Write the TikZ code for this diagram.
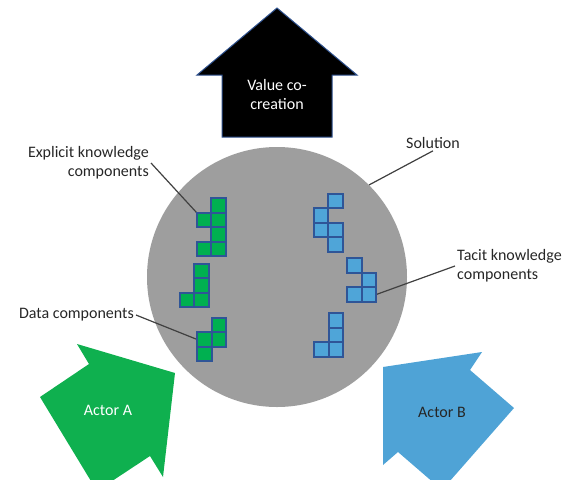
\documentclass[tikz,border=0pt]{standalone}
\usepackage{fontspec}
\setmainfont{Carlito}
\definecolor{circlegray}{HTML}{9E9E9E}
\definecolor{greencell}{HTML}{00B050}
\definecolor{bluecell}{HTML}{4FA5D8}
\definecolor{cellborder}{HTML}{2F5597}
\definecolor{leadergray}{HTML}{404040}
\definecolor{labeltext}{HTML}{262626}
\definecolor{actorgreen}{HTML}{0FB04F}
\definecolor{actorblue}{HTML}{4FA3D6}
\definecolor{arrowedge}{HTML}{2F528F}
\begin{document}
\begin{tikzpicture}[x=1pt,y=-1pt,
  cell/.style={draw=cellborder, line width=1.7pt, minimum size=14.5pt, inner sep=0pt, outer sep=0pt},
  gcell/.style={cell, fill=greencell},
  bcell/.style={cell, fill=bluecell},
  lbl/.style={font=\fontsize{16}{19}\selectfont, text=labeltext, inner sep=2pt},
  leader/.style={draw=leadergray, line width=1.2pt},
  inlbl/.style={font=\fontsize{16}{19}\selectfont, align=center, inner sep=1pt},
]
\path[use as bounding box] (0,0) rectangle (570,490);

% the solution disc
\node[circle, fill=circlegray, minimum size=260pt, inner sep=0pt] (sol) at (277,277) {};

% value co-creation arrow (pointing up)
\filldraw[fill=black, draw=arrowedge, line width=1pt]
  (222,137) -- (222,75) -- (197,75) -- (277,8) -- (357,75) -- (332,75) -- (332,137) -- cycle;
\node[inlbl, text=white] (vcc) at (277,95) {Value co-\\creation};

% actor arrows pointing at the disc, cut off along the lower edge
\begin{scope}
  \clip (0,0) rectangle (570,479);
  \fill[actorgreen] (175,373) -- (77,344) -- (89,364) -- (40,397) -- (97,491)
    -- (150,456) -- (163,477) -- cycle;
  \fill[actorblue] (383,367) -- (482,352) -- (470,370) -- (514,408) -- (442,490)
    -- (398,452) -- (383,465) -- cycle;
\end{scope}
\node[inlbl, text=white] (actA) at (108,410) {Actor A};
\node[inlbl, text=labeltext] (actB) at (442,412) {Actor B};

% labels
\node[lbl, anchor=east, align=right] (ekl) at (151,163) {Explicit knowledge\\components};
\node[lbl, anchor=east] (dcl) at (136,315) {Data components};
\node[lbl] (soll) at (433,143) {Solution};
\node[lbl, anchor=west, align=left] (tkl) at (455,266) {Tacit knowledge\\components};

% leader lines (drawn under the cells)
\coordinate (ekt) at (204,220);
\coordinate (dct) at (204.5,339.5);
\coordinate (tkt) at (369,294.5);
\draw[leader] (ekl.east) -- ([shift={(-7.25,-7.25)}]ekt);
\draw[leader] (dcl.east) -- ([shift={(-7.25,0)}]dct);
\draw[leader] (soll.south) -- (sol.45);
\draw[leader] (tkl.west) -- ([shift={(7.25,0)}]tkt);

% explicit knowledge components (green)
\node[gcell] (g1a) at (218.5,205.5) {};
\node[gcell] (g1b) at (ekt) {};
\node[gcell] (g1c) at (218.5,220) {};
\node[gcell] (g1d) at (218.5,234.5) {};
\node[gcell] (g1e) at (204,249) {};
\node[gcell] (g1f) at (218.5,249) {};
% data components (green)
\node[gcell] (g2a) at (201.5,271) {};
\node[gcell] (g2b) at (201.5,285.5) {};
\node[gcell] (g2c) at (201.5,300) {};
\node[gcell] (g2d) at (187,300) {};
\node[gcell] (g3a) at (219,325) {};
\node[gcell] (g3b) at (219,339.5) {};
\node[gcell] (g3c) at (dct) {};
\node[gcell] (g3d) at (204.5,354) {};
% tacit knowledge components (blue)
\node[bcell] (b1a) at (335.5,201) {};
\node[bcell] (b1b) at (321,215.5) {};
\node[bcell] (b1c) at (321,230) {};
\node[bcell] (b1d) at (335.5,230) {};
\node[bcell] (b1e) at (335.5,244.5) {};
\node[bcell] (b2a) at (354.5,265.5) {};
\node[bcell] (b2b) at (369,280) {};
\node[bcell] (b2c) at (354.5,294.5) {};
\node[bcell] (b2d) at (tkt) {};
\node[bcell] (b3a) at (336,320.5) {};
\node[bcell] (b3b) at (336,335) {};
\node[bcell] (b3c) at (336,349.5) {};
\node[bcell] (b3d) at (321.5,349.5) {};
\end{tikzpicture}
\end{document}
